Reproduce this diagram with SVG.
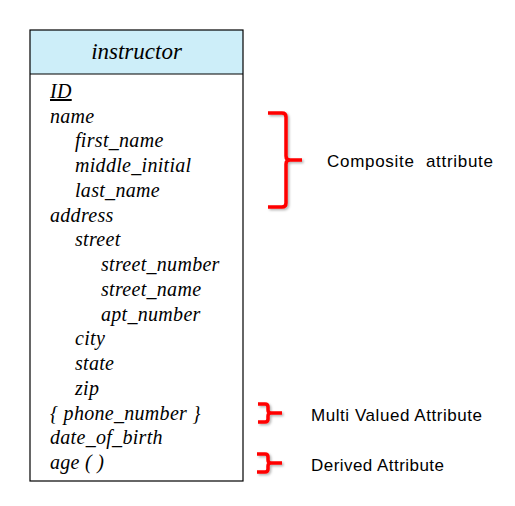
<svg xmlns="http://www.w3.org/2000/svg" width="515" height="506" viewBox="0 0 515 506">
<defs>
<style>
.attr{font-family:"Liberation Serif","Times New Roman",serif;font-style:italic;font-size:20px;fill:#000;letter-spacing:0.3px}
.title{font-family:"Liberation Serif","Times New Roman",serif;font-style:italic;font-size:23px;fill:#000}
.note{font-family:"Liberation Sans",Arial,sans-serif;font-size:17px;fill:#000}
.brace{fill:none;stroke:#ff0000;stroke-width:3.5;stroke-linecap:butt;stroke-linejoin:round}
</style>
<filter id="sh" x="-30%" y="-30%" width="160%" height="160%">
<feDropShadow dx="1.5" dy="1.5" stdDeviation="1" flood-color="#000" flood-opacity="0.3"/>
</filter>
</defs>
<rect width="515" height="506" fill="#fff"/>
<g id="instructor">
<rect x="30" y="30" width="213" height="44" fill="#cdeef9" stroke="none"/>
<rect x="30" y="30" width="213" height="451" fill="none" stroke="#000" stroke-width="1.2"/>
<line x1="30" y1="74" x2="243" y2="74" stroke="#000" stroke-width="1.2"/>
<text class="title" x="136.5" y="59" text-anchor="middle">instructor</text>
<text class="attr" x="50" y="98" text-decoration="underline">ID</text>
<text class="attr" x="50" y="122.5">name</text>
<text class="attr" x="75" y="147.25">first_name</text>
<text class="attr" x="75" y="172">middle_initial</text>
<text class="attr" x="75" y="196.75">last_name</text>
<text class="attr" x="50" y="221.5">address</text>
<text class="attr" x="75" y="246.25">street</text>
<text class="attr" x="101" y="271">street_number</text>
<text class="attr" x="101" y="295.75">street_name</text>
<text class="attr" x="101" y="320.5">apt_number</text>
<text class="attr" x="75" y="345.25">city</text>
<text class="attr" x="75" y="370">state</text>
<text class="attr" x="75" y="394.75">zip</text>
<text class="attr" x="50" y="419.5">{ phone_number }</text>
<text class="attr" x="50" y="444.25">date_of_birth</text>
<text class="attr" x="50" y="469">age ( )</text>
</g>
<g id="annotations" filter="url(#sh)">
<path class="brace" d="M268,113 H282 Q286,113 286,117 V156 Q286,160 290,160 H302 M290,160 Q286,160 286,164 V203 Q286,207 282,207 H268"/>
<path class="brace" d="M258,404 H265 Q268,404 268,407 V410 Q268,413 271,413 H282 M271,413 Q268,413 268,416 V419 Q268,422 265,422 H258"/>
<path class="brace" d="M257,454 H265 Q268,454 268,457 V460 Q268,463 271,463 H282 M271,463 Q268,463 268,466 V469 Q268,472 265,472 H257"/>
</g>
<g id="labels">
<text class="note" x="327" y="167" textLength="166" lengthAdjust="spacing" word-spacing="6">Composite attribute</text>
<text class="note" x="311" y="421" textLength="171" lengthAdjust="spacing">Multi Valued Attribute</text>
<text class="note" x="311" y="471" textLength="133" lengthAdjust="spacing">Derived Attribute</text>
</g>
</svg>
